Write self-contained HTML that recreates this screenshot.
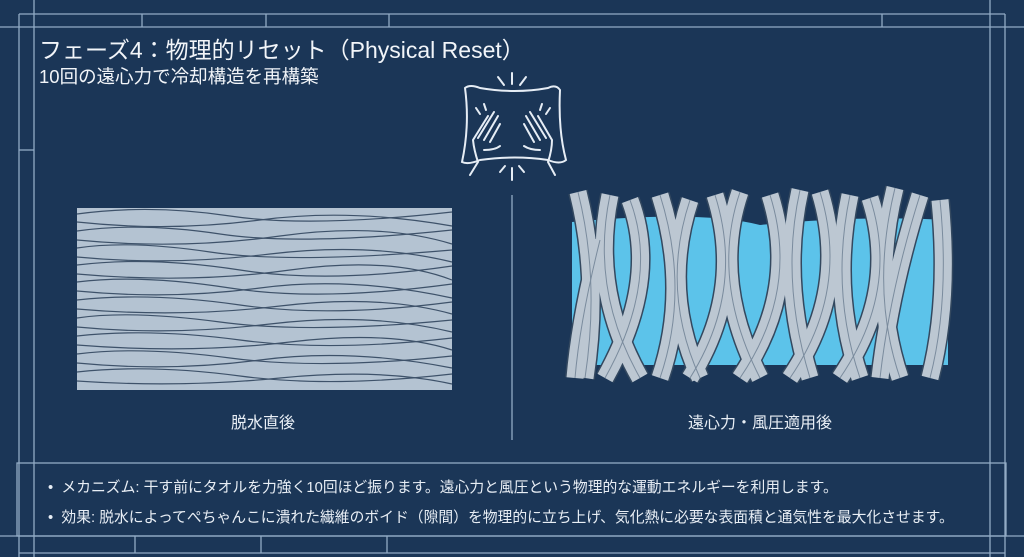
<!DOCTYPE html>
<html><head><meta charset="utf-8"><style>
html,body{margin:0;padding:0;}
body{width:1024px;height:557px;background:#1b3657;overflow:hidden;position:relative;font-family:"Liberation Sans","Noto Sans CJK JP",sans-serif;color:#e8eef5;}
.t{position:absolute;white-space:nowrap;}
</style></head><body>
<svg width="1024" height="557" style="position:absolute;left:0;top:0">
<defs>
<g id="fb">
<path d="M578 192 Q600 280 585 378"/><path d="M610 195 Q590 290 640 378"/>
<path d="M630 200 Q660 280 605 378"/><path d="M660 195 Q690 290 660 378"/>
<path d="M690 200 Q660 290 700 378"/><path d="M715 195 Q745 290 690 378"/>
<path d="M740 192 Q710 280 760 378"/><path d="M770 195 Q800 290 740 378"/>
<path d="M800 190 Q780 280 810 378"/><path d="M820 192 Q850 290 790 378"/>
<path d="M850 195 Q830 290 860 378"/><path d="M870 198 Q900 290 840 378"/>
<path d="M895 188 Q870 290 900 378"/><path d="M920 195 Q890 290 880 378"/>
<path d="M940 200 Q950 300 930 378"/><path d="M600 240 Q580 320 575 378"/>
</g>
</defs>
<g stroke="#9fb8d2" stroke-width="1.3" fill="none" opacity="0.9">
<line x1="19" y1="14" x2="1005" y2="14"/>
<line x1="0" y1="27" x2="1024" y2="27"/>
<line x1="19" y1="14" x2="19" y2="557"/>
<line x1="34" y1="0" x2="34" y2="557"/>
<line x1="990" y1="0" x2="990" y2="557"/>
<line x1="1005" y1="14" x2="1005" y2="557"/>
<line x1="142" y1="14" x2="142" y2="27"/>
<line x1="266" y1="14" x2="266" y2="27"/>
<line x1="389" y1="14" x2="389" y2="27"/>
<line x1="882" y1="14" x2="882" y2="27"/>
<line x1="19" y1="150" x2="34" y2="150"/>
<rect x="17" y="463" width="989" height="73"/>
<line x1="0" y1="536" x2="1024" y2="536"/>
<line x1="19" y1="553" x2="1005" y2="553"/>
<line x1="135" y1="536" x2="135" y2="553"/>
<line x1="261" y1="536" x2="261" y2="553"/>
<line x1="387" y1="536" x2="387" y2="553"/>
<line x1="512" y1="195" x2="512" y2="440"/>
</g>
<g stroke="#e6edf5" stroke-width="2" fill="none" stroke-linecap="round">
<path d="M465 88 Q470 84 480 88 Q515 94 548 88 Q556 84 560 90 Q558 130 566 160 Q560 165 548 160 Q515 155 480 160 Q468 165 462 162 Q470 125 465 88Z"/>
<line x1="512" y1="73" x2="512" y2="84"/><line x1="498" y1="77" x2="504" y2="85"/><line x1="526" y1="77" x2="520" y2="85"/>
<line x1="512" y1="168" x2="512" y2="180"/><line x1="500" y1="172" x2="505" y2="166"/><line x1="524" y1="172" x2="519" y2="166"/>
<path d="M470 175 L478 162 Q474 150 473 140 L488 116 M478 138 L494 112 M484 140 L498 116 M490 142 L500 124 M484 150 Q495 150 500 146"/>
<path d="M555 175 L548 162 Q552 150 552 140 L538 116 M546 138 L530 112 M540 140 L526 116 M534 142 L524 124 M540 150 Q530 150 524 146"/>
<line x1="476" y1="108" x2="480" y2="114"/><line x1="484" y1="104" x2="486" y2="110"/><line x1="550" y1="108" x2="546" y2="114"/><line x1="542" y1="104" x2="540" y2="110"/>
</g>
<rect x="77" y="208" width="375" height="182" fill="#b4c3d2"/>
<g stroke="#2a3f58" stroke-width="1.2" fill="none" opacity="0.85">
<path d="M77 214 Q150 204 230 216 T452 212"/><path d="M77 222 Q170 232 260 220 T452 226"/>
<path d="M77 231 Q140 222 220 234 T452 230"/><path d="M77 240 Q180 250 280 236 T452 244"/>
<path d="M77 248 Q130 240 210 252 T452 250"/><path d="M77 257 Q170 266 270 254 T452 262"/>
<path d="M77 265 Q150 256 240 270 T452 266"/><path d="M77 274 Q190 284 290 270 T452 280"/>
<path d="M77 282 Q140 274 230 288 T452 284"/><path d="M77 291 Q170 300 260 288 T452 298"/>
<path d="M77 300 Q150 292 240 305 T452 302"/><path d="M77 309 Q180 318 280 306 T452 314"/>
<path d="M77 318 Q130 310 220 322 T452 320"/><path d="M77 327 Q170 336 270 324 T452 332"/>
<path d="M77 336 Q150 328 240 340 T452 338"/><path d="M77 345 Q190 354 290 342 T452 350"/>
<path d="M77 354 Q140 346 230 358 T452 356"/><path d="M77 363 Q170 372 260 360 T452 368"/>
<path d="M77 372 Q150 364 240 376 T452 374"/><path d="M77 381 Q180 388 280 378 T452 384"/>
</g>
<path d="M572 222 Q700 210 760 225 Q860 215 948 220 L948 365 L572 365Z" fill="#5cc3ea"/>
<g stroke="#33485f" stroke-width="20" fill="none"><use href="#fb"/></g>
<g stroke="#bcc7d2" stroke-width="17" fill="none"><use href="#fb"/></g>
<g stroke="#7a8b9d" stroke-width="1" fill="none"><use href="#fb"/></g>
</svg>
<div class="t" style="left:39px;top:31px;font-size:23px;color:#f2f5f9">フェーズ4：物理的リセット（Physical Reset）</div>
<div class="t" style="left:39px;top:63px;font-size:18.5px;color:#f2f5f9">10回の遠心力で冷却構造を再構築</div>
<div class="t" style="left:231px;top:409px;font-size:16px">脱水直後</div>
<div class="t" style="left:688px;top:409px;font-size:16px">遠心力・風圧適用後</div>
<div class="t" style="left:48px;top:476px;font-size:14.8px">•&nbsp;&nbsp;メカニズム: 干す前にタオルを力強く10回ほど振ります。遠心力と風圧という物理的な運動エネルギーを利用します。</div>
<div class="t" style="left:48px;top:506px;font-size:14.8px">•&nbsp;&nbsp;効果: 脱水によってぺちゃんこに潰れた繊維のボイド（隙間）を物理的に立ち上げ、気化熱に必要な表面積と通気性を最大化させます。</div>
</body></html>
